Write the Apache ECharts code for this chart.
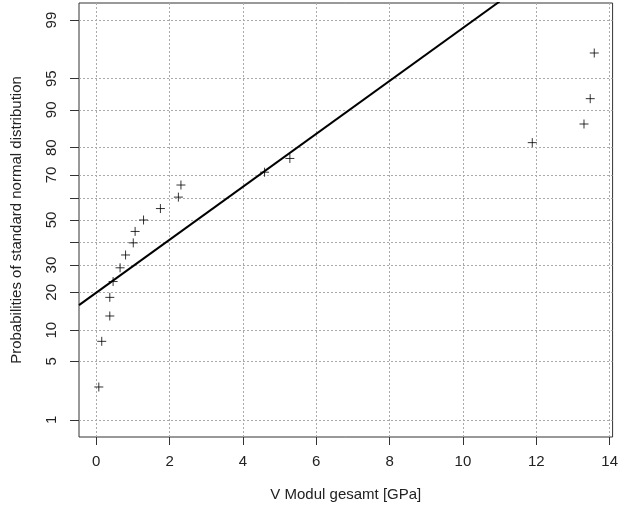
<!DOCTYPE html>
<html>
<head>
<meta charset="utf-8">
<script src="https://cdn.jsdelivr.net/npm/echarts@6/dist/echarts.min.js"></script>
<style>html,body{margin:0;padding:0;background:#fff}#c{width:621px;height:510px}</style>
</head>
<body>
<div id="c"></div>
<script>
// ---- data ----
var xVals = [0.07,0.15,0.37,0.37,0.46,0.65,0.80,1.01,1.06,1.29,1.75,2.24,2.31,4.59,5.28,11.89,13.30,13.47,13.58];
var pVals = [2.6,7.9,13.2,18.4,23.7,28.9,34.2,39.5,44.7,50.0,55.3,60.5,65.8,71.1,76.3,81.6,86.8,92.1,97.4];
var fitX = [-0.47, 11.0];
var fitP = [16.1, 99.45];
var xTicks = [0,2,4,6,8,10,12,14];
var probTicks = [1,5,10,20,30,40,50,60,70,80,90,95,99];
var probLabels = [1,5,10,20,30,50,70,80,90,95,99];

function qnorm(p){
  var a=[-3.969683028665376e+01,2.209460984245205e+02,-2.759285104469687e+02,1.383577518672690e+02,-3.066479806614716e+01,2.506628277459239e+00];
  var b=[-5.447609879822406e+01,1.615858368580409e+02,-1.556989798598866e+02,6.680131188771972e+01,-1.328068155288572e+01];
  var c=[-7.784894002430293e-03,-3.223964580411365e-01,-2.400758277161838e+00,-2.549732539343734e+00,4.374664141464968e+00,2.938163982698783e+00];
  var d=[7.784695709041462e-03,3.224671290700398e-01,2.445134137142996e+00,3.754408661907416e+00];
  var pl=0.02425,q,r;
  if(p<pl){q=Math.sqrt(-2*Math.log(p));return (((((c[0]*q+c[1])*q+c[2])*q+c[3])*q+c[4])*q+c[5])/((((d[0]*q+d[1])*q+d[2])*q+d[3])*q+1);}
  if(p<=1-pl){q=p-0.5;r=q*q;return (((((a[0]*r+a[1])*r+a[2])*r+a[3])*r+a[4])*r+a[5])*q/(((((b[0]*r+b[1])*r+b[2])*r+b[3])*r+b[4])*r+1);}
  q=Math.sqrt(-2*Math.log(1-p));return -(((((c[0]*q+c[1])*q+c[2])*q+c[3])*q+c[4])*q+c[5])/((((d[0]*q+d[1])*q+d[2])*q+d[3])*q+1);
}
function pr(pct){return qnorm(pct/100);}

var pts = xVals.map(function(x,i){return [x, pr(pVals[i])];});
var fit = fitX.map(function(x,i){return [x, pr(fitP[i])];});

var FONT = '"Liberation Sans", Arial, sans-serif';
var chart = echarts.init(document.getElementById('c'), null, {renderer:'canvas'});
chart.setOption({
  animation:false,
  backgroundColor:'#fff',
  grid:{left:79,right:7,top:3,bottom:73,show:true,borderColor:'#333',borderWidth:1,backgroundColor:'transparent'},
  xAxis:{
    type:'value',min:-0.47,max:14.08,
    name:'V Modul gesamt [GPa]',nameLocation:'middle',nameGap:50,
    nameTextStyle:{fontFamily:FONT,fontSize:15,color:'#222'},
    axisLine:{show:false,onZero:false},
    axisTick:{show:true,length:8,customValues:xTicks,lineStyle:{color:'#333'}},
    axisLabel:{customValues:xTicks,margin:17,fontFamily:FONT,fontSize:15,color:'#222'},
    splitLine:{show:true,lineStyle:{color:'#aaa',type:[2,2],width:1}}
  },
  yAxis:{
    type:'value',min:-2.525,max:2.525,
    name:'Probabilities of standard normal distribution',nameLocation:'middle',nameGap:55,nameRotate:90,
    nameTextStyle:{fontFamily:FONT,fontSize:15,color:'#222'},
    axisLine:{show:false,onZero:false},
    axisTick:{show:true,length:9,customValues:probTicks.map(pr),lineStyle:{color:'#333'}},
    axisLabel:{customValues:probLabels.map(pr),rotate:90,margin:20,fontFamily:FONT,fontSize:15,color:'#222',
      formatter:function(v){var best=probLabels[0],bd=1e9;probLabels.forEach(function(p){var dd=Math.abs(pr(p)-v);if(dd<bd){bd=dd;best=p;}});return String(best);}},
    splitLine:{show:true,lineStyle:{color:'#aaa',type:[2,2],width:1}}
  },
  series:[
    {type:'line',data:fit,showSymbol:false,symbol:'none',lineStyle:{color:'#000',width:2},clip:true,z:3},
    {type:'scatter',data:pts,symbol:'path://M0,5L10,5M5,0L5,10',symbolSize:9,
     itemStyle:{color:'none',borderColor:'#000',borderWidth:1},z:4}
  ]
});
</script>
</body>
</html>
